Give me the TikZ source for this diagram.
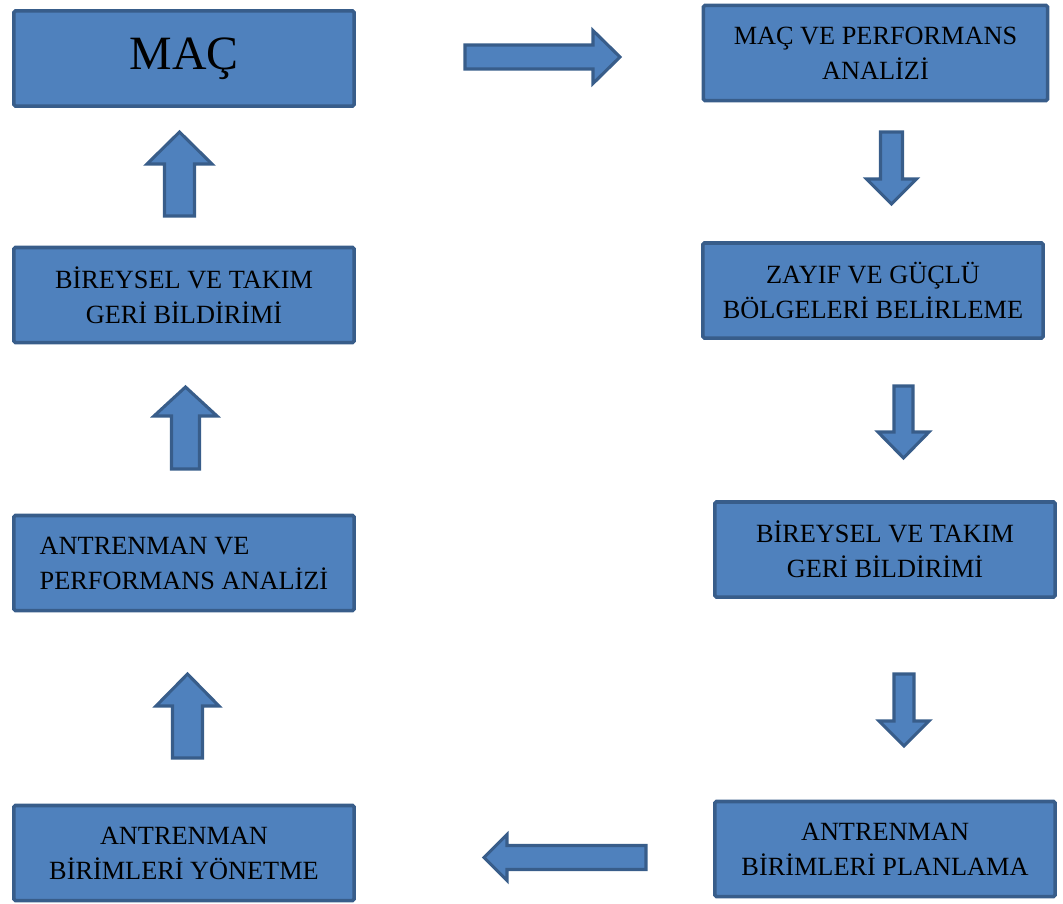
\documentclass[tikz,border=0pt]{standalone}
\usepackage{fontspec}
\setmainfont{Liberation Serif}
\usepackage{tikz}

\definecolor{boxblue}{HTML}{4F81BD}
\definecolor{boxedge}{HTML}{385D8A}

\tikzset{
  stagebox/.style={draw=boxedge, fill=boxblue, line width=2.5pt,
    rounded corners=1pt, minimum width=8.5cm, minimum height=2.375cm, inner sep=2pt,
    align=center, font=\fontsize{18.7}{24.8}\selectfont},
  arrowline/.style={draw=boxedge, fill=boxblue, line width=2.2pt, line join=miter},
  pics/blockarrow/.style n args={4}{code={
    % length, shaft width, head width, head length
    \draw[arrowline] (0,-#2/2) -- ({#1-#4},-#2/2) -- ({#1-#4},-#3/2) -- (#1,0)
      -- ({#1-#4},#3/2) -- ({#1-#4},#2/2) -- (0,#2/2) -- cycle;
  }}
}

\begin{document}
\begin{tikzpicture}[x=0.025cm,y=-0.025cm]
        \useasboundingbox (0,0) rectangle (1063,903);
        % left column
        \node[stagebox, font=\fontsize{34}{40}\selectfont] (mac) at (184,58.5) {MAÇ};
        \node[stagebox] (bireyselL) at (184,295) {BİREYSEL VE TAKIM\\GERİ BİLDİRİMİ};
        \node[stagebox, align=left] (antperf) at (184,563) {ANTRENMAN VE\\PERFORMANS ANALİZİ};
        \node[stagebox] (yonetme) at (184,853) {ANTRENMAN\\BİRİMLERİ YÖNETME};
        % right column
        \node[stagebox, minimum width=8.6cm] (macperf) at (875.5,53) {MAÇ VE PERFORMANS\\ANALİZİ};
        \node[stagebox] (zayif) at (873,290.5) {ZAYIF VE GÜÇLÜ\\BÖLGELERİ BELİRLEME};
        \node[stagebox] (bireyselR) at (885,549.5) {BİREYSEL VE TAKIM\\GERİ BİLDİRİMİ};
        \node[stagebox] (planlama) at (885,849) {ANTRENMAN\\BİRİMLERİ PLANLAMA};
        % block arrows
        \pic at (465,57) {blockarrow={155}{24}{53}{27}};
        \pic[rotate=-90] at (891.5,132) {blockarrow={72}{22}{50}{25}};
        \pic[rotate=-90] at (903.5,386) {blockarrow={72}{19}{51}{26}};
        \pic[rotate=-90] at (904,674) {blockarrow={72}{20}{50}{25}};
        \pic[rotate=180] at (646,857.5) {blockarrow={162}{24}{46}{23}};
        \pic[rotate=90] at (187.5,758) {blockarrow={84}{30}{63}{32}};
        \pic[rotate=90] at (185.5,469) {blockarrow={82}{28}{63}{29}};
        \pic[rotate=90] at (179.5,216) {blockarrow={84}{30}{65}{32}};
    \end{tikzpicture}
\end{document}
